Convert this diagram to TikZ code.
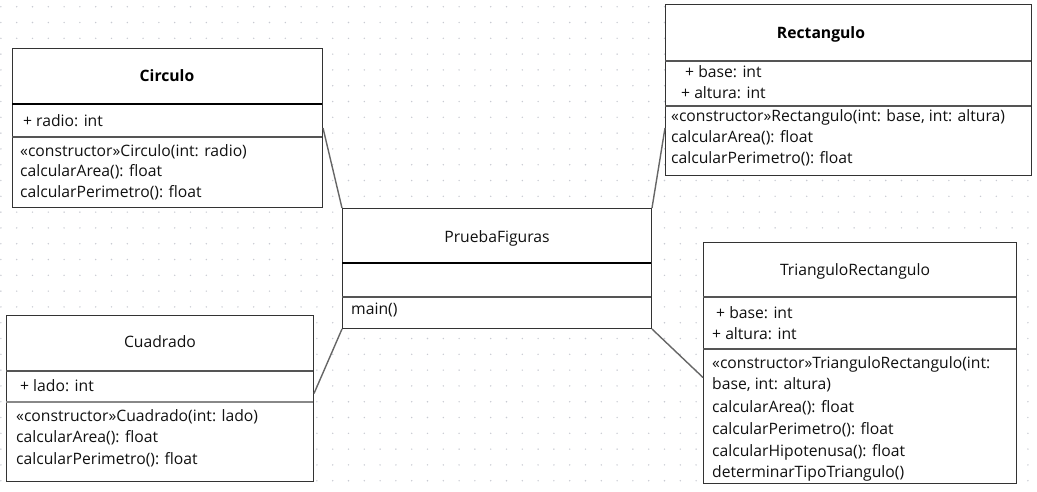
\documentclass[tikz,border=0pt]{standalone}
\usepackage{fontspec}
\setmainfont{Open Sans}
\definecolor{boxc}{HTML}{333333}
\definecolor{sepc}{HTML}{555555}
\definecolor{lsepc}{HTML}{888888}
\definecolor{connc}{HTML}{666666}
\definecolor{dotc}{HTML}{C8CAD2}
\definecolor{textc}{HTML}{111111}
\tikzset{
  classbox/.style={draw=boxc, line width=1pt, fill=white, inner sep=0pt, anchor=north west},
  thicksep/.style={draw=black, line width=2.2pt},
  thinsep/.style={draw=sepc, line width=1.2pt},
  lightsep/.style={draw=lsepc, line width=1.6pt},
  conn/.style={draw=connc, line width=1.4pt},
  txt/.style={anchor=base west, inner sep=0pt, font=\fontsize{15.7}{18}\selectfont, text=textc},
  ttl/.style={anchor=base, inner sep=0pt, font=\fontsize{15.7}{18}\selectfont, text=textc},
  bttl/.style={anchor=base, inner sep=0pt, font=\fontsize{15.7}{18}\selectfont\bfseries, text=black}
}
\begin{document}
\begin{tikzpicture}[x=1pt,y=-1pt]
\useasboundingbox (0,0) rectangle (1037,491);
% dotted grid
\foreach \i in {0,...,65}{
  \foreach \j in {0,...,30}{
    \fill[dotc] ({0.9+15.8*\i},{6.7+15.8*\j}) circle (0.8pt);
  }
}
% Circulo
\node[classbox, minimum width=310pt, minimum height=159pt] (circ) at (12,48) {};
\draw[thicksep] (12,104) -- (322,104);
\draw[thinsep] (12,137) -- (322,137);
\node[bttl] (circT) at (167,81) {Circulo};
\node[txt] (circA) at (23,126) {+ radio: int};
\node[txt] (circM1) at (20,156) {«constructor»Circulo(int: radio)};
\node[txt] (circM2) at (20,176) {calcularArea(): float};
\node[txt] (circM3) at (20,197) {calcularPerimetro(): float};
% Rectangulo
\node[classbox, minimum width=366pt, minimum height=171pt] (rect) at (665,4) {};
\draw[thinsep] (665,61) -- (1031,61);
\draw[thinsep] (665,106) -- (1031,106);
\node[bttl] (rectT) at (821,38) {Rectangulo};
\node[txt] (rectA1) at (685,77) {+ base: int};
\node[txt] (rectA2) at (681,98) {+ altura: int};
\node[txt] (rectM1) at (671,121) {«constructor»Rectangulo(int: base, int: altura)};
\node[txt] (rectM2) at (671,142) {calcularArea(): float};
\node[txt] (rectM3) at (671,163) {calcularPerimetro(): float};
% PruebaFiguras
\node[classbox, minimum width=309pt, minimum height=120pt] (pf) at (342,208) {};
\draw[thicksep] (342,263) -- (651,263);
\draw[thinsep] (342,297) -- (651,297);
\node[ttl] (pfT) at (497,242) {PruebaFiguras};
\node[txt] (pfM) at (351,314) {main()};
% Cuadrado
\node[classbox, minimum width=307pt, minimum height=166pt] (cuad) at (6,315) {};
\draw[thinsep] (6,371) -- (313,371);
\draw[lightsep] (6,402) -- (313,402);
\node[ttl] (cuadT) at (160,347) {Cuadrado};
\node[txt] (cuadA) at (20,391) {+ lado: int};
\node[txt] (cuadM1) at (16,421) {«constructor»Cuadrado(int: lado)};
\node[txt] (cuadM2) at (16,442) {calcularArea(): float};
\node[txt] (cuadM3) at (16,464) {calcularPerimetro(): float};
% TrianguloRectangulo
\node[classbox, minimum width=313pt, minimum height=241pt] (tri) at (703,242) {};
\draw[thinsep] (703,297) -- (1016,297);
\draw[thinsep] (703,349) -- (1016,349);
\node[ttl] (triT) at (855,275) {TrianguloRectangulo};
\node[txt] (triA1) at (716,318) {+ base: int};
\node[txt] (triA2) at (712,339) {+ altura: int};
\node[txt] (triM1) at (712,368) {«constructor»TrianguloRectangulo(int:};
\node[txt] (triM2) at (712,389) {base, int: altura)};
\node[txt] (triM3) at (712,412) {calcularArea(): float};
\node[txt] (triM4) at (712,434) {calcularPerimetro(): float};
\node[txt] (triM5) at (712,456) {calcularHipotenusa(): float};
\node[txt] (triM6) at (712,477) {determinarTipoTriangulo()};
% connectors
\draw[conn] (circ.east) -- (pf.north west);
\draw[conn] ([yshift=-38pt]rect.west) -- (pf.north east);
\draw[conn] ([yshift=5pt]cuad.east) -- (pf.south west);
\draw[conn] (pf.south east) -- ([yshift=-14.5pt]tri.west);
\end{tikzpicture}
\end{document}
